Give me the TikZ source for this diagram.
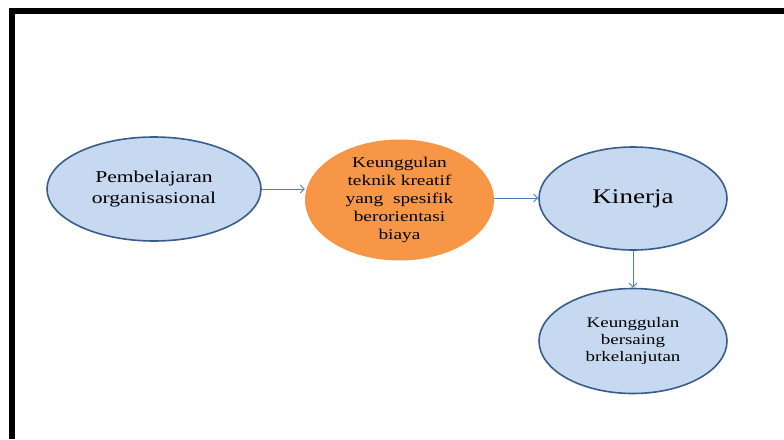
\documentclass[tikz,border=0pt]{standalone}
\usepackage{fontspec}
\usetikzlibrary{shapes.geometric,arrows.meta}
\newfontfamily\widefont[FakeStretch=1.3]{Liberation Serif}
\definecolor{bluefill}{RGB}{198,217,240}
\definecolor{blueedge}{RGB}{56,93,138}
\definecolor{orangefill}{RGB}{247,150,70}
\definecolor{arrowblue}{RGB}{74,126,187}
\begin{document}
\begin{tikzpicture}[x=1pt,y=-1pt,
  bubble/.style={ellipse,draw=blueedge,line width=1.6pt,fill=bluefill,
    inner sep=0pt,align=center,text=black},
  hotbubble/.style={ellipse,fill=orangefill,inner sep=0pt,align=center,text=black},
  link/.style={draw=arrowblue,line width=0.9pt,-{Straight Barb[length=4pt,width=8pt]}}]
  \useasboundingbox (0,0) rectangle (784,439);
  % heavy frame along the top and left edges
  \fill[black] (9,8) rectangle (784,14);
  \fill[black] (9,8) rectangle (15,439);

  \node[bubble,minimum width=214pt,minimum height=104pt,
        font=\widefont\fontsize{16.6}{21}\selectfont] (pemb) at (154,189)
        {Pembelajaran\\organisasional};
  \node[hotbubble,minimum width=189pt,minimum height=110pt,
        font=\widefont\fontsize{14.9}{18}\selectfont] (unggul) at (399.5,200)
        {Keunggulan\\teknik kreatif\\yang\ \ spesifik\\berorientasi\\biaya};
  \node[bubble,minimum width=188pt,minimum height=103pt,
        font=\widefont\fontsize{20.8}{24}\selectfont] (kinerja) at (633,198.5)
        {Kinerja};
  \node[bubble,minimum width=188pt,minimum height=105pt,
        font=\widefont\fontsize{14.6}{16.8}\selectfont] (saing) at (633,341)
        {Keunggulan\\bersaing\\brkelanjutan};

  \draw[link] (pemb.east |- 0,189) -- (unggul.west |- 0,189);
  \draw[link] (unggul.east |- 0,198) -- (kinerja.west |- 0,198);
  \draw[link] (kinerja.south) -- (saing.north);
\end{tikzpicture}
\end{document}
